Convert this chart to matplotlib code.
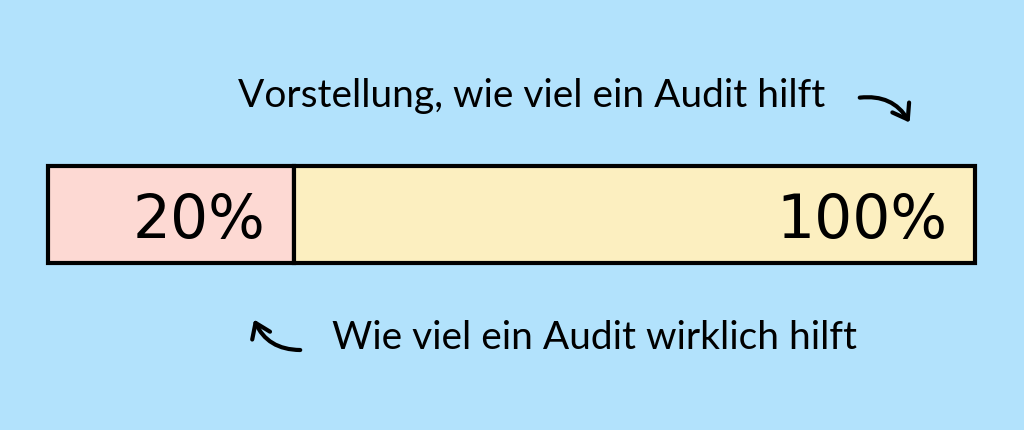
import matplotlib.pyplot as plt
from matplotlib.patches import FancyArrowPatch

# data
segments = ["Wirklich", "Vorstellung"]
seg_widths = [26.5, 73.5]
seg_labels = ["20%", "100%"]
seg_colors = ["#fdd9d3", "#fcefc0"]
note_top = "Vorstellung, wie viel ein Audit hilft"
note_bottom = "Wie viel ein Audit wirklich hilft"

bg = "#b2e2fc"

fig = plt.figure(figsize=(10.24, 4.31), dpi=100, facecolor=bg)
ax = fig.add_axes([0, 0, 1, 1])
ax.set_facecolor(bg)

# 0..100 auf Pixel 48..975, y in Pixeln (von oben)
px = 927 / 100
ax.set_xlim(-48 / px, 100 + 49 / px)
ax.set_ylim(431, 0)
ax.axis("off")

def to_x(p):
    return (p - 48) / px

left = 0
for w, lab, c in zip(seg_widths, seg_labels, seg_colors):
    ax.barh(215, w, left=left, height=97, color=c, edgecolor="black", linewidth=3)
    ax.text(left + w - 3.0, 215, lab, ha="right", va="center_baseline", fontsize=43,
            family="DejaVu Sans", color="black")
    left += w

ax.text(to_x(532), 96, note_top, ha="center", va="center", fontsize=28,
        family="Lato", color="black")
ax.text(to_x(594), 338, note_bottom, ha="center", va="center", fontsize=28,
        family="Lato", color="black")

a1 = FancyArrowPatch((to_x(857), 99), (to_x(911), 126),
                     connectionstyle="arc3,rad=-0.35",
                     arrowstyle="->,head_length=0.5,head_width=0.35",
                     color="black", lw=3, mutation_scale=20)
ax.add_patch(a1)
a2 = FancyArrowPatch((to_x(303), 351), (to_x(253), 318),
                     connectionstyle="arc3,rad=-0.35",
                     arrowstyle="->,head_length=0.5,head_width=0.35",
                     color="black", lw=3, mutation_scale=20)
ax.add_patch(a2)

fig.savefig("out.png", dpi=100, facecolor=bg)
